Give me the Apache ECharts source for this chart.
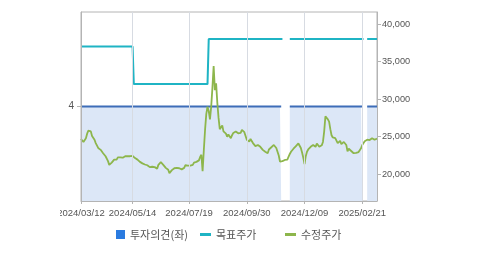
<!DOCTYPE html>
<html>
<head>
<meta charset="utf-8">
<script src="https://cdn.jsdelivr.net/npm/echarts@6/dist/echarts.min.js"></script>
<style>
html,body{margin:0;padding:0;background:#fff;}
#chart{width:479px;height:255px;}
</style>
</head>
<body>
<div id="chart"></div>
<script>
const categories = [
'2024/03/12','2024/03/13','2024/03/14','2024/03/15','2024/03/18','2024/03/19','2024/03/20','2024/03/21','2024/03/22','2024/03/25','2024/03/26','2024/03/27','2024/03/28','2024/03/29',
'2024/04/01','2024/04/02','2024/04/03','2024/04/04','2024/04/05','2024/04/08','2024/04/09','2024/04/11','2024/04/12','2024/04/15','2024/04/16','2024/04/17','2024/04/18','2024/04/19','2024/04/22','2024/04/23','2024/04/24','2024/04/25','2024/04/26','2024/04/29','2024/04/30',
'2024/05/02','2024/05/03','2024/05/07','2024/05/08','2024/05/09','2024/05/10','2024/05/13','2024/05/14','2024/05/16','2024/05/17','2024/05/20','2024/05/21','2024/05/22','2024/05/23','2024/05/24','2024/05/27','2024/05/28','2024/05/29','2024/05/30','2024/05/31',
'2024/06/03','2024/06/04','2024/06/05','2024/06/07','2024/06/10','2024/06/11','2024/06/12','2024/06/13','2024/06/14','2024/06/17','2024/06/18','2024/06/19','2024/06/20','2024/06/21','2024/06/24','2024/06/25','2024/06/26','2024/06/27','2024/06/28',
'2024/07/01','2024/07/02','2024/07/03','2024/07/04','2024/07/05','2024/07/08','2024/07/09','2024/07/10','2024/07/11','2024/07/12','2024/07/15','2024/07/16','2024/07/17','2024/07/18','2024/07/19','2024/07/22','2024/07/23','2024/07/24','2024/07/25','2024/07/26','2024/07/29','2024/07/30','2024/07/31',
'2024/08/01','2024/08/02','2024/08/05','2024/08/06','2024/08/07','2024/08/08','2024/08/09','2024/08/12','2024/08/13','2024/08/14','2024/08/16','2024/08/19','2024/08/20','2024/08/21','2024/08/22','2024/08/23','2024/08/26','2024/08/27','2024/08/28','2024/08/29','2024/08/30',
'2024/09/02','2024/09/03','2024/09/04','2024/09/05','2024/09/06','2024/09/09','2024/09/10','2024/09/11','2024/09/12','2024/09/13','2024/09/19','2024/09/20','2024/09/23','2024/09/24','2024/09/25','2024/09/26','2024/09/27','2024/09/30',
'2024/10/02','2024/10/04','2024/10/07','2024/10/08','2024/10/10','2024/10/11','2024/10/14','2024/10/15','2024/10/16','2024/10/17','2024/10/18','2024/10/21','2024/10/22','2024/10/23','2024/10/24','2024/10/25','2024/10/28','2024/10/29','2024/10/30','2024/10/31',
'2024/11/01','2024/11/04','2024/11/05','2024/11/06','2024/11/07','2024/11/08','2024/11/11','2024/11/12','2024/11/13','2024/11/14','2024/11/15','2024/11/18','2024/11/19','2024/11/20','2024/11/21','2024/11/22','2024/11/25','2024/11/26','2024/11/27','2024/11/28','2024/11/29',
'2024/12/02','2024/12/03','2024/12/04','2024/12/05','2024/12/06','2024/12/09','2024/12/10','2024/12/11','2024/12/12','2024/12/13','2024/12/16','2024/12/17','2024/12/18','2024/12/19','2024/12/20','2024/12/23','2024/12/24','2024/12/26','2024/12/27','2024/12/30',
'2025/01/02','2025/01/03','2025/01/06','2025/01/07','2025/01/08','2025/01/09','2025/01/10','2025/01/13','2025/01/14','2025/01/15','2025/01/16','2025/01/17','2025/01/20','2025/01/21','2025/01/22','2025/01/23','2025/01/24','2025/01/31',
'2025/02/03','2025/02/04','2025/02/05','2025/02/06','2025/02/07','2025/02/10','2025/02/11','2025/02/12','2025/02/13','2025/02/14','2025/02/17','2025/02/18','2025/02/19','2025/02/20','2025/02/21','2025/02/24','2025/02/25','2025/02/26','2025/02/27','2025/02/28',
'2025/03/04','2025/03/05','2025/03/06','2025/03/07','2025/03/10','2025/03/11','2025/03/12'
];

const tickLabels = ['2024/03/12','2024/05/14','2024/07/19','2024/09/30','2024/12/09','2025/02/21'];
const priceTicks = [20000, 25000, 30000, 35000, 40000];
const opinionTicks = [4];

// 수정주가 (adjusted price)
const price = [
24700,24450,24300,24350,24800,25400,25800,25650,25700,25100,
24850,24600,24150,23950,23500,23600,23250,23000,22800,22550,
22400,22150,21750,21250,21150,21550,21700,21950,22100,21950,
22250,22150,22250,22300,22200,22350,22400,22250,22400,22550,
22400,22250,22450,22250,22150,22150,21950,21950,21650,21650,
21450,21450,21300,21350,21200,21250,20950,21000,21000,21150,
20950,20900,20750,21250,21400,21600,21350,21250,21000,20850,
20650,20600,20150,20350,20550,20750,20800,20850,20850,21000,
20800,20950,20650,20600,20850,21200,21200,21150,21300,21150,
21150,21250,21550,21450,21650,21750,21850,22300,22600,20400,
23200,25900,28000,29000,28400,27300,29000,31500,34400,31200,
32100,29500,27500,26000,26200,26500,25700,25900,25400,25000,
25300,25400,24800,25200,25500,25600,25700,25500,25450,25250,
25500,25900,25750,25600,25100,24600,24500,24350,24700,24600,
24150,23900,23750,23850,23900,23700,23650,23500,23250,23150,
23000,22900,22800,23300,23400,23600,23850,23900,23650,23500,
23300,22500,21700,21650,21750,21850,21900,21850,21950,22100,
22700,23000,23250,23400,23500,23750,23900,24100,24350,23500,
22900,22200,21350,22400,23000,23300,23500,23650,23800,23900,
23750,23650,24100,23950,23650,23500,23850,24300,25700,27700,
27600,27300,27000,26000,25200,24900,24850,24800,24600,24150,
24300,24450,24000,23750,24300,24100,23900,23050,23400,23300,
23100,22900,22800,22850,22850,22800,22950,23150,23450,23900,
24100,24400,24500,24600,24800,24550,24650,24800,24900,24600,24850,24750
];

// 목표주가 (target price) levels and the index where each level starts
const targetLevels = [37000, 32000, 38000];
const targetStarts = [0, 43, 104];
// 투자의견 (opinion)
const opinionValue = 4;
// index ranges with no opinion / target data
const gapRanges = [[164, 169], [230, 232]];

function inGap(i){ return gapRanges.some(g => i >= g[0] && i <= g[1]); }
const target = categories.map((c, i) => {
  if (inGap(i)) return null;
  let v = targetLevels[0];
  for (let k = 0; k < targetStarts.length; k++) if (i >= targetStarts[k]) v = targetLevels[k];
  return v;
});
const opinion = categories.map((c, i) => inGap(i) ? null : opinionValue);

const chart = echarts.init(document.getElementById('chart'), null, {renderer: 'canvas'});
const fontFam = 'Liberation Sans, Arial, sans-serif';
const krFont = '"Noto Sans CJK KR", sans-serif';
const isTick = (idx, val) => tickLabels.indexOf(val) >= 0;

chart.setOption({
  animation: false,
  backgroundColor: '#fff',
  grid: {left: 81, right: 102, top: 12, bottom: 54, show: true, borderColor: '#b4b4b4', borderWidth: 1, backgroundColor: 'transparent', containLabel: false},
  legend: [
    {left: 116, top: 229, padding: 0, itemWidth: 9, itemHeight: 9, icon: 'rect', data: ['투자의견(좌)'],
     textStyle: {fontFamily: krFont, fontSize: 11, color: '#555'}},
    {left: 200, top: 229, padding: 0, itemWidth: 11, itemHeight: 3, icon: 'rect', data: ['목표주가'],
     textStyle: {fontFamily: krFont, fontSize: 11, color: '#555'}},
    {left: 285, top: 229, padding: 0, itemWidth: 11, itemHeight: 3, icon: 'rect', data: ['수정주가'],
     textStyle: {fontFamily: krFont, fontSize: 11, color: '#555'}}
  ],
  graphic: [
    {type: 'rect', left: 0, top: 204, z: 100, shape: {width: 60, height: 18}, style: {fill: '#fff'}}
  ],
  xAxis: {
    type: 'category', data: categories, boundaryGap: false, z: 5,
    axisLine: {show: true, lineStyle: {color: '#b4b4b4'}},
    axisTick: {show: true, length: 3, interval: isTick, lineStyle: {color: '#b4b4b4'}},
    axisLabel: {interval: isTick, fontFamily: fontFam, fontSize: 9.5, color: '#555', margin: 7, showMinLabel: true},
    splitLine: {show: true, interval: isTick, lineStyle: {color: '#d7dbe2', width: 1}}
  },
  yAxis: [
    {type: 'value', position: 'left', min: 0, max: 8, z: 5,
     axisLine: {show: true, lineStyle: {color: '#b4b4b4'}},
     axisTick: {show: true, length: 4, customValues: opinionTicks, lineStyle: {color: '#b4b4b4'}},
     axisLabel: {customValues: opinionTicks, fontFamily: fontFam, fontSize: 10, color: '#555', margin: 7},
     splitLine: {show: false}},
    {type: 'value', position: 'right', min: 16440, max: 41600, z: 5,
     axisLine: {show: true, lineStyle: {color: '#b4b4b4'}},
     axisTick: {show: true, length: 4, customValues: priceTicks, lineStyle: {color: '#b4b4b4'}},
     axisLabel: {customValues: priceTicks, fontFamily: fontFam, fontSize: 9.2, color: '#555', margin: 5,
       formatter: v => v.toLocaleString('en-US')},
     splitLine: {show: false}}
  ],
  series: [
    {name: '투자의견(좌)', type: 'line', yAxisIndex: 0, data: opinion, symbol: 'none', connectNulls: false,
     itemStyle: {color: '#2b7be0'}, lineStyle: {color: '#3d6db8', width: 2},
     areaStyle: {color: '#dce7f7', opacity: 1}, z: 1},
    {name: '목표주가', type: 'line', yAxisIndex: 1, data: target, step: 'end', symbol: 'none', connectNulls: false,
     itemStyle: {color: '#1fb4c4'}, lineStyle: {color: '#1fb4c4', width: 2}, z: 2},
    {name: '수정주가', type: 'line', yAxisIndex: 1, data: price, symbol: 'none',
     itemStyle: {color: '#8db64c'}, lineStyle: {color: '#8db64c', width: 1.8}, z: 3}
  ]
});
</script>
</body>
</html>
